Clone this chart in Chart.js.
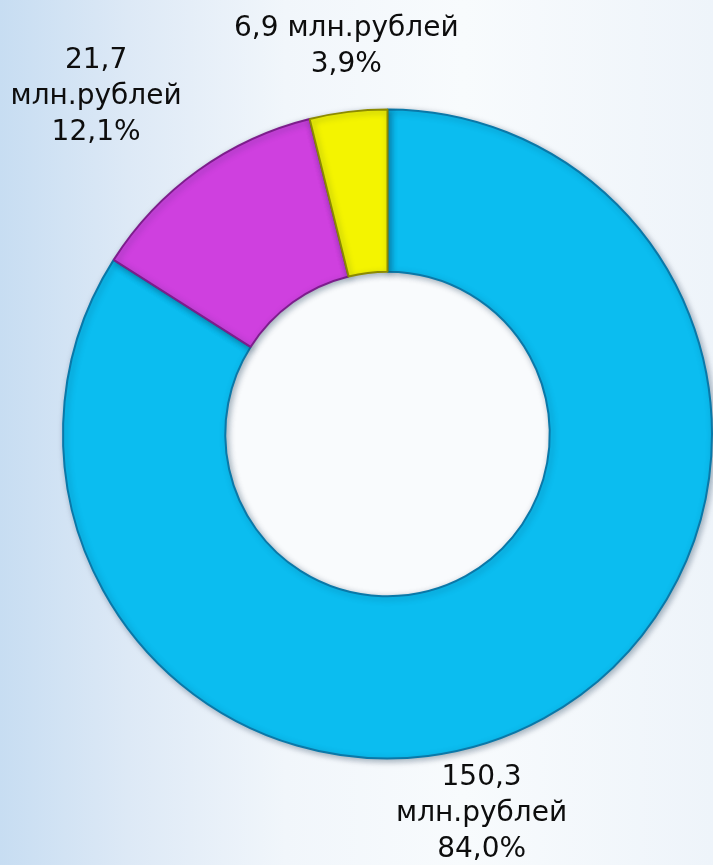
<!DOCTYPE html>
<html>
<head>
<meta charset="utf-8">
<script src="https://cdn.jsdelivr.net/npm/chart.js@4.4.1/dist/chart.umd.min.js"></script>
<style>
  html, body { margin: 0; padding: 0; width: 713px; height: 865px; overflow: hidden; }
  body { background: linear-gradient(90deg, #c7ddf2 0%, #dde9f6 18%, #f1f6fb 40%, #f8fbfd 65%, #eef4fa 100%); }
  #wrap { position: absolute; left: 0; top: 0; width: 713px; height: 865px; }
</style>
</head>
<body>
<div id="wrap"><canvas id="c" width="713" height="865"></canvas></div>
<script>
const categories = ["A", "B", "C"];
const values = [150.3, 21.7, 6.9];
const unitLabel = "млн.рублей";
const fillColors = ["#0bbdf0", "#cf40df", "#f4f400"];
const edgeColors = ["#0a78a8", "#7d1d8c", "#8c8a00"];

const total = values.reduce((a, b) => a + b, 0);
const fmt = (v, d) => v.toFixed(d).replace(".", ",");

const labelLines = [
  [fmt(values[0], 1), unitLabel, fmt(values[0] / total * 100, 1) + "%"],
  [fmt(values[1], 1), unitLabel, fmt(values[1] / total * 100, 1) + "%"],
  [fmt(values[2], 1) + " " + unitLabel, fmt(values[2] / total * 100, 1) + "%"]
];
// label block centres relative to doughnut centre, in outer-radius units
const labelAnchors = [
  { dx: 0.29, dy: 1.17 },
  { dx: -0.898, dy: -1.04 },
  { dx: -0.127, dy: -1.194 }
];

const labelPlugin = {
  id: "labels",
  beforeDatasetsDraw(chart) {
    const arc = chart.getDatasetMeta(0).data[0];
    const ctx = chart.ctx;
    ctx.save();
    ctx.beginPath();
    ctx.arc(arc.x, arc.y, arc.innerRadius, 0, Math.PI * 2);
    ctx.fillStyle = "#f9fbfd";
    ctx.fill();
    ctx.restore();
  },
  afterDatasetsDraw(chart) {
    const meta = chart.getDatasetMeta(0);
    const ctx = chart.ctx;
    ctx.save();
    ctx.font = '28px "DejaVu Sans"';
    ctx.fillStyle = "#0d0d0d";
    ctx.textAlign = "center";
    ctx.textBaseline = "middle";
    const lh = 36;
    meta.data.forEach((arc, i) => {
      const r = arc.outerRadius;
      const cx = arc.x + labelAnchors[i].dx * r;
      const cy = arc.y + labelAnchors[i].dy * r;
      const lines = labelLines[i];
      const y0 = cy - (lines.length - 1) * lh / 2;
      lines.forEach((t, k) => ctx.fillText(t, cx, y0 + k * lh));
    });
    ctx.restore();
  }
};

const shadowPlugin = {
  id: "shadow",
  beforeDatasetDraw(chart) {
    const ctx = chart.ctx;
    ctx.save();
    ctx.shadowColor = "rgba(0,40,70,0.35)";
    ctx.shadowBlur = 6;
    ctx.shadowOffsetX = 2;
    ctx.shadowOffsetY = 2;
  },
  afterDatasetDraw(chart) {
    chart.ctx.restore();
  }
};

new Chart(document.getElementById("c"), {
  type: "doughnut",
  data: {
    labels: categories,
    datasets: [{
      data: values,
      backgroundColor: fillColors,
      borderColor: edgeColors,
      borderWidth: 2,
      hoverOffset: 0
    }]
  },
  options: {
    responsive: false,
    animation: false,
    cutout: "50%",
    rotation: 0,
    layout: { padding: { left: 62, right: 0, top: 108, bottom: 105 } },
    plugins: { legend: { display: false }, tooltip: { enabled: false } }
  },
  plugins: [shadowPlugin, labelPlugin]
});
</script>
</body>
</html>
